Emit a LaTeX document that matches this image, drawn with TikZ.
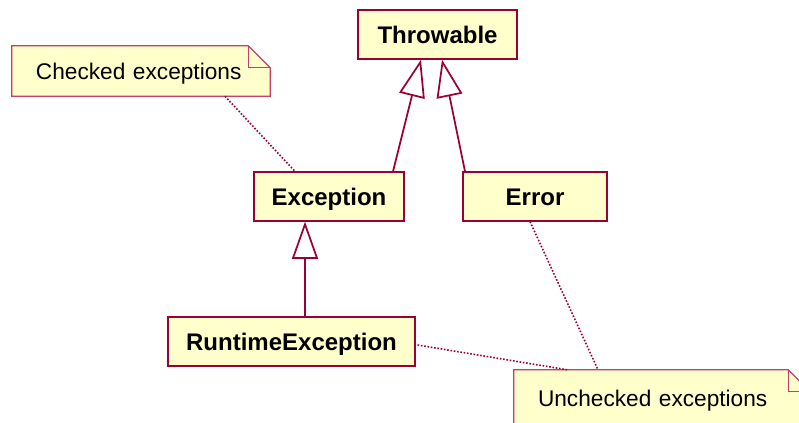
\documentclass[tikz,border=0pt]{standalone}
\usepackage{fontspec}
\setmainfont{Liberation Sans}
\usetikzlibrary{arrows.meta,calc}
\definecolor{umlred}{HTML}{990033}
\definecolor{umlnote}{HTML}{C0406A}
\definecolor{umlfill}{HTML}{FFFFCC}
\tikzset{>={Triangle[open,length=28pt,width=19.5pt]}}
\tikzset{
  classbox/.style={draw=umlred, fill=umlfill, line width=0.9pt, minimum height=36.75pt, inner sep=0pt, text height=12.9pt, text depth=0pt, font=\fontsize{18}{21}\selectfont\bfseries},
  notebox/.style={fill=umlfill, inner xsep=18pt, inner ysep=0pt, text height=12.2pt, text depth=0pt, align=left, font=\fontsize{17}{20}\selectfont},
  noteline/.style={draw=umlnote, line width=0.9pt, line join=miter},
  inherit/.style={->, draw=umlred, line width=1.3pt},
  notelink/.style={draw=umlred, line width=1.2pt, dash pattern=on 1.2pt off 1.3pt},
}

\begin{document}
\begin{tikzpicture}[x=0.75pt, y=-0.75pt]
  \useasboundingbox (0,0) rectangle (799,422);
  \clip (0,0) rectangle (799,422);
  % classes
  \node[classbox, minimum width=119.25pt] (throwable) at (437.5,34.5) {Throwable};
  \node[classbox, minimum width=112.5pt] (exception) at (329,196.5) {Exception};
  \node[classbox, minimum width=108pt] (error) at (535,196.5) {Error};
  \node[classbox, minimum width=185.25pt] (runtime) at (291.5,341.5) {RuntimeException};
  % notes
  \node[notebox, text width=157.5pt, minimum height=37.5pt] (checked) at (141,71) {Checked exceptions};
  \node[notebox, text width=186pt, minimum height=42pt] (unchecked) at (662,398) {Unchecked exceptions};
  \foreach \n in {checked,unchecked}{
    \fill[white] ($(\n.north east)+(-22,0)$) -- (\n.north east) -- ($(\n.north east)+(0,22)$) -- cycle;
    \draw[noteline] (\n.south west) -- (\n.north west) -- ($(\n.north east)+(-22,0)$) -- ($(\n.north east)+(0,22)$) -- (\n.south east) -- cycle;
    \draw[noteline] ($(\n.north east)+(-22,0)$) |- ($(\n.north east)+(0,22)$);
  }
  % generalizations
  \draw[inherit] ($(exception.north)+(64,0)$) -- ($(throwable.south)+(-16.5,0)$);
  \draw[inherit] ($(error.north)+(-70,0)$) -- ($(throwable.south)+(4.5,0)$);
  \draw[inherit] ($(runtime.north)+(13.5,0)$) -- ($(exception.south)+(-24,0)$);
  % note links
  \draw[notelink] ($(checked.south)+(84,0)$) -- ($(exception.north)+(-34,0)$);
  \draw[notelink] ($(error.south)+(-5,0)$) -- ($(unchecked.north)+(-64,0)$);
  \draw[notelink] ($(runtime.east)+(2,3.5)$) -- ($(unchecked.north)+(-95,0)$);
\end{tikzpicture}
\end{document}
